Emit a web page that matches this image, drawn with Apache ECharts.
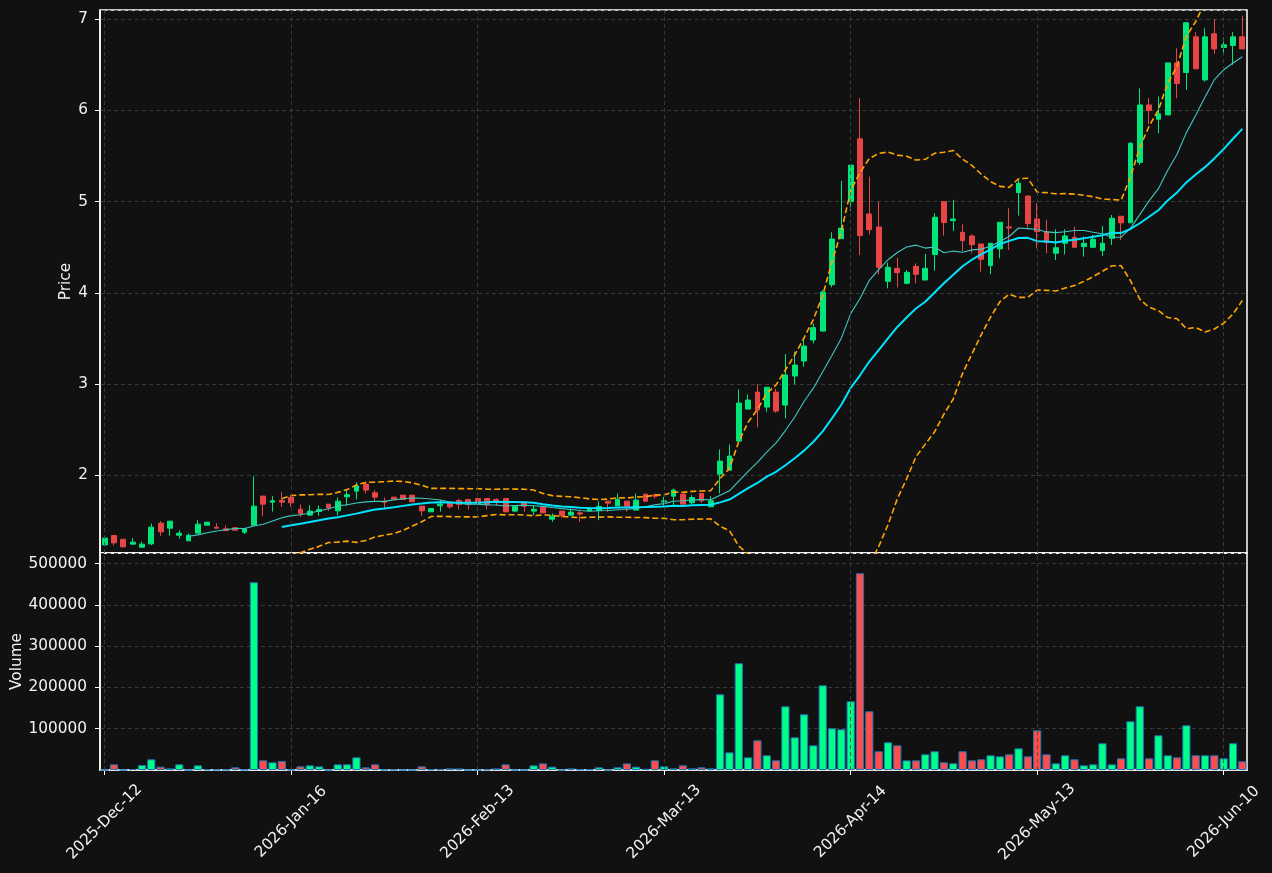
<!DOCTYPE html>
<html><head><meta charset="utf-8">
<script src="https://cdn.jsdelivr.net/npm/echarts@6/dist/echarts.min.js"></script>
<style>html,body{margin:0;padding:0;background:#111111;}#c{width:1272px;height:873px;}</style>
</head><body><div id="c"></div>
<script>
const dates = [
'2025-Dec-12','2025-Dec-15','2025-Dec-16','2025-Dec-17','2025-Dec-18','2025-Dec-19','2025-Dec-22','2025-Dec-23','2025-Dec-29','2025-Dec-30',
'2026-Jan-02','2026-Jan-05','2026-Jan-06','2026-Jan-07','2026-Jan-08','2026-Jan-09','2026-Jan-12','2026-Jan-13','2026-Jan-14','2026-Jan-15',
'2026-Jan-16','2026-Jan-19','2026-Jan-20','2026-Jan-21','2026-Jan-22','2026-Jan-23','2026-Jan-26','2026-Jan-27','2026-Jan-28','2026-Jan-29',
'2026-Jan-30','2026-Feb-02','2026-Feb-03','2026-Feb-04','2026-Feb-05','2026-Feb-06','2026-Feb-09','2026-Feb-10','2026-Feb-11','2026-Feb-12',
'2026-Feb-13','2026-Feb-16','2026-Feb-17','2026-Feb-18','2026-Feb-19','2026-Feb-20','2026-Feb-23','2026-Feb-24','2026-Feb-25','2026-Feb-26',
'2026-Feb-27','2026-Mar-02','2026-Mar-03','2026-Mar-04','2026-Mar-05','2026-Mar-06','2026-Mar-09','2026-Mar-10','2026-Mar-11','2026-Mar-12',
'2026-Mar-13','2026-Mar-16','2026-Mar-17','2026-Mar-18','2026-Mar-19','2026-Mar-20','2026-Mar-23','2026-Mar-24','2026-Mar-25','2026-Mar-26',
'2026-Mar-27','2026-Mar-30','2026-Mar-31','2026-Apr-01','2026-Apr-02','2026-Apr-07','2026-Apr-08','2026-Apr-09','2026-Apr-10','2026-Apr-13',
'2026-Apr-14','2026-Apr-15','2026-Apr-16','2026-Apr-17','2026-Apr-20','2026-Apr-21','2026-Apr-22','2026-Apr-23','2026-Apr-24','2026-Apr-27',
'2026-Apr-28','2026-Apr-29','2026-Apr-30','2026-May-04','2026-May-05','2026-May-06','2026-May-07','2026-May-08','2026-May-11','2026-May-12',
'2026-May-13','2026-May-14','2026-May-15','2026-May-18','2026-May-19','2026-May-20','2026-May-21','2026-May-22','2026-May-25','2026-May-26',
'2026-May-27','2026-May-28','2026-May-29','2026-Jun-01','2026-Jun-02','2026-Jun-03','2026-Jun-04','2026-Jun-05','2026-Jun-08','2026-Jun-09',
'2026-Jun-10','2026-Jun-11','2026-Jun-12'
];
const tickLabels = ['2025-Dec-12','2026-Jan-16','2026-Feb-13','2026-Mar-13','2026-Apr-14','2026-May-13','2026-Jun-10'];

const opens = [
1.239,1.342,1.300,1.247,1.214,1.250,1.477,1.422,1.345,1.283,
1.367,1.455,1.433,1.415,1.426,1.378,1.455,1.773,1.707,1.725,
1.758,1.630,1.565,1.605,1.685,1.612,1.766,1.828,1.905,1.810,
1.715,1.762,1.784,1.784,1.663,1.601,1.667,1.704,1.725,1.737,
1.747,1.747,1.737,1.747,1.609,1.711,1.609,1.649,1.521,1.609,
1.565,1.590,1.612,1.616,1.718,1.667,1.718,1.620,1.795,1.784,
1.711,1.773,1.795,1.700,1.802,1.656,2.014,2.058,2.376,2.727,
2.913,2.749,2.913,2.771,3.089,3.253,3.484,3.582,4.090,4.594,
5.000,5.688,4.865,4.723,4.127,4.269,4.105,4.291,4.141,4.420,
5.000,4.792,4.664,4.624,4.536,4.299,4.482,4.723,5.099,5.062,
4.810,4.672,4.434,4.544,4.609,4.507,4.500,4.463,4.598,4.840,
4.768,5.430,6.060,5.903,5.950,6.520,6.415,6.806,6.334,6.839,
6.689,6.711,6.806
];
const closes = [
1.313,1.261,1.217,1.269,1.247,1.433,1.382,1.499,1.367,1.345,
1.466,1.488,1.422,1.396,1.400,1.415,1.663,1.685,1.722,1.707,
1.700,1.583,1.609,1.627,1.645,1.718,1.788,1.886,1.839,1.762,
1.704,1.740,1.737,1.711,1.612,1.638,1.685,1.656,1.682,1.682,
1.693,1.682,1.725,1.601,1.663,1.663,1.630,1.590,1.554,1.561,
1.598,1.576,1.634,1.660,1.696,1.740,1.663,1.729,1.718,1.773,
1.722,1.839,1.685,1.758,1.722,1.722,2.157,2.212,2.793,2.826,
2.716,2.965,2.705,3.100,3.209,3.418,3.619,4.010,4.590,4.710,
5.400,4.628,4.693,4.280,4.280,4.222,4.226,4.204,4.269,4.829,
4.770,4.810,4.573,4.529,4.368,4.544,4.774,4.712,5.201,4.759,
4.672,4.551,4.496,4.624,4.500,4.544,4.588,4.544,4.818,4.768,
5.640,6.060,5.998,5.962,6.520,6.294,6.960,6.455,6.806,6.674,
6.718,6.806,6.674
];
const lows = [
1.225,1.232,1.217,1.247,1.207,1.236,1.338,1.338,1.305,1.283,
1.367,1.455,1.422,1.389,1.400,1.356,1.444,1.557,1.604,1.656,
1.656,1.546,1.565,1.557,1.612,1.561,1.667,1.737,1.802,1.718,
1.627,1.740,1.737,1.711,1.554,1.601,1.605,1.638,1.627,1.627,
1.680,1.627,1.667,1.601,1.598,1.601,1.565,1.590,1.492,1.536,
1.565,1.492,1.612,1.510,1.601,1.667,1.601,1.620,1.718,1.747,
1.656,1.656,1.685,1.685,1.700,1.656,1.802,2.058,2.376,2.727,
2.526,2.698,2.687,2.625,3.000,3.191,3.447,3.575,4.061,4.594,
4.898,4.415,4.642,4.204,4.050,4.061,4.094,4.105,4.141,4.244,
4.628,4.679,4.459,4.434,4.233,4.204,4.379,4.470,4.847,4.715,
4.489,4.434,4.361,4.423,4.500,4.397,4.500,4.405,4.526,4.580,
4.768,5.400,5.850,5.750,5.950,6.133,6.225,6.455,6.316,6.620,
6.620,6.500,6.674
];
const highs = [
1.334,1.342,1.300,1.313,1.276,1.473,1.499,1.499,1.400,1.364,
1.510,1.488,1.477,1.451,1.426,1.415,1.992,1.780,1.773,1.817,
1.773,1.682,1.674,1.671,1.685,1.758,1.839,1.923,1.923,1.839,
1.758,1.762,1.784,1.784,1.663,1.638,1.729,1.704,1.744,1.744,
1.747,1.747,1.747,1.747,1.663,1.711,1.674,1.649,1.583,1.609,
1.638,1.609,1.634,1.718,1.718,1.802,1.718,1.802,1.795,1.802,
1.766,1.857,1.795,1.784,1.802,1.773,2.285,2.340,2.943,2.888,
3.000,2.965,2.950,3.330,3.356,3.484,3.666,4.030,4.664,5.227,
5.400,6.133,5.275,5.000,4.331,4.386,4.251,4.324,4.427,4.873,
5.000,5.019,4.752,4.642,4.536,4.544,4.774,4.927,5.238,5.062,
4.982,4.800,4.697,4.697,4.726,4.617,4.635,4.733,4.854,4.840,
5.650,6.240,6.133,6.150,6.520,6.680,6.960,6.857,6.900,7.000,
6.800,6.857,7.036
];
const volumes = [
0,13700,0,2400,12000,25900,8100,4000,13700,0,
11300,1600,1000,1000,6500,1000,455000,23400,18600,21800,
500,8900,11300,8900,0,13700,13700,30700,6500,13700,
1000,1000,0,0,8900,1500,1500,4000,4000,0,
0,1500,4000,13700,0,0,11300,16000,8000,0,
4000,1500,1500,6500,0,6500,16000,8000,3000,23400,
8900,4000,11300,4000,6500,4000,183500,42800,258700,30700,
72000,35600,23400,154400,79200,135000,59800,205300,101000,98600,
166500,477000,142300,45300,67100,59800,23400,23400,38000,45300,
18600,16200,45300,23400,25900,35600,33100,38000,52500,33100,
96200,38000,16200,35600,25900,11300,13700,64700,13700,28300,
118000,154400,28300,84000,35600,30700,108300,35600,35600,35600,
28300,64700,21000
];

// derived indicators from the closes
function movingAverage(n) {
  return closes.map((c, i) => {
    if (i < n - 1) return '-';
    let s = 0;
    for (let k = i - n + 1; k <= i; k++) s += closes[k];
    return +(s / n).toFixed(4);
  });
}
function bollinger(n, mult, sign) {
  return closes.map((c, i) => {
    if (i < n - 1) return '-';
    let s = 0;
    for (let k = i - n + 1; k <= i; k++) s += closes[k];
    const m = s / n;
    let v = 0;
    for (let k = i - n + 1; k <= i; k++) v += (closes[k] - m) * (closes[k] - m);
    const sd = Math.sqrt(v / (n - 1));
    return +(m + sign * mult * sd).toFixed(4);
  });
}
const ma10 = movingAverage(10);
const ma20 = movingAverage(20);
const bbUpper = bollinger(20, 2, 1);
const bbLower = bollinger(20, 2, -1);

const UP = '#00e67b', DOWN = '#e84646';
const VUP = '#00ff88', VDOWN = '#ff4d4d';
const TXT = '#f2f2f2';
const FONT = 'DejaVu Sans';
const FS = 15.3;

const candleData = dates.map((d, i) => [opens[i], closes[i], lows[i], highs[i]]);
const volData = volumes.map((v, i) => ({
  value: v,
  itemStyle: { color: closes[i] >= opens[i] ? VUP : VDOWN }
}));
const vGrid = {
  silent: true, symbol: ['none', 'none'], label: { show: false }, animation: false,
  lineStyle: { color: '#444444', type: [4, 3], width: 0.8 },
  emphasis: { disabled: true },
  data: tickLabels.map(t => ({ xAxis: t }))
};
const splitStyle = { show: true, lineStyle: { color: '#444444', type: [4, 3], width: 0.8 } };

const chart = echarts.init(document.getElementById('c'), null, { renderer: 'canvas' });
chart.setOption({
  backgroundColor: '#111111',
  animation: false,
  textStyle: { fontFamily: FONT },
  grid: [
    { left: 100, right: 25, top: 10, height: 543, show: true, borderColor: '#ffffff', borderWidth: 1.5, backgroundColor: 'transparent' },
    { left: 100, right: 25, top: 553, height: 217, show: true, borderColor: '#ffffff', borderWidth: 1.5, backgroundColor: 'transparent' }
  ],
  xAxis: [
    { type: 'category', gridIndex: 0, data: dates, boundaryGap: true,
      axisLabel: { show: false }, axisTick: { show: false }, axisLine: { show: false }, splitLine: { show: false } },
    { type: 'category', gridIndex: 1, data: dates, boundaryGap: true,
      axisLine: { show: true, lineStyle: { color: '#ffffff', width: 1.5 } },
      axisTick: { show: true, alignWithLabel: true, interval: 19, length: 5, lineStyle: { color: '#ffffff' } },
      axisLabel: { interval: 19, rotate: 45, align: 'center', verticalAlign: 'middle', margin: 52,
        color: TXT, fontSize: FS, fontFamily: FONT },
      splitLine: { show: false } }
  ],
  yAxis: [
    { type: 'value', gridIndex: 0, min: 1.15, max: 7.10, splitNumber: 5, scale: true,
      name: 'Price', nameLocation: 'middle', nameGap: 26, nameMoveOverlap: false,
      nameTextStyle: { color: TXT, fontSize: FS, fontFamily: FONT },
      axisLine: { show: true, lineStyle: { color: '#ffffff', width: 1.5 } },
      axisTick: { show: true, length: 5, lineStyle: { color: '#ffffff' } },
      axisLabel: { color: TXT, fontSize: FS, fontFamily: FONT, margin: 12, showMinLabel: false, showMaxLabel: false },
      splitLine: splitStyle },
    { type: 'value', gridIndex: 1, min: 0, max: 526000, interval: 100000,
      name: 'Volume', nameLocation: 'middle', nameGap: 75, nameMoveOverlap: false,
      nameTextStyle: { color: TXT, fontSize: FS, fontFamily: FONT },
      axisLine: { show: true, lineStyle: { color: '#ffffff', width: 1.5 } },
      axisTick: { show: true, length: 5, lineStyle: { color: '#ffffff' } },
      axisLabel: { color: TXT, fontSize: FS, fontFamily: FONT, margin: 13, showMinLabel: false, showMaxLabel: false,
        formatter: v => String(v) },
      splitLine: splitStyle }
  ],
  series: [
    { type: 'candlestick', name: 'OHLC', xAxisIndex: 0, yAxisIndex: 0, data: candleData,
      barWidth: '57%', z: 3,
      itemStyle: { color: UP, color0: DOWN, borderColor: UP, borderColor0: DOWN, borderWidth: 1 },
      markLine: vGrid },
    { type: 'line', name: 'MA10', xAxisIndex: 0, yAxisIndex: 0, data: ma10, showSymbol: false, symbol: 'none', z: 4,
      lineStyle: { color: '#3fc8c0', width: 1.1 } },
    { type: 'line', name: 'MA20', xAxisIndex: 0, yAxisIndex: 0, data: ma20, showSymbol: false, symbol: 'none', z: 4,
      lineStyle: { color: '#00e5ff', width: 2 } },
    { type: 'line', name: 'BB Upper', xAxisIndex: 0, yAxisIndex: 0, data: bbUpper, showSymbol: false, symbol: 'none', z: 4,
      lineStyle: { color: '#ffa500', width: 1.6, type: [6, 3] } },
    { type: 'line', name: 'BB Lower', xAxisIndex: 0, yAxisIndex: 0, data: bbLower, showSymbol: false, symbol: 'none', z: 4,
      lineStyle: { color: '#ffa500', width: 1.6, type: [6, 3] } },
    { type: 'bar', name: 'Volume', xAxisIndex: 1, yAxisIndex: 1, data: volData, barWidth: '88%',
      itemStyle: { borderColor: '#1f77b4', borderWidth: 1 },
      markLine: vGrid }
  ]
});
</script>
</body></html>
